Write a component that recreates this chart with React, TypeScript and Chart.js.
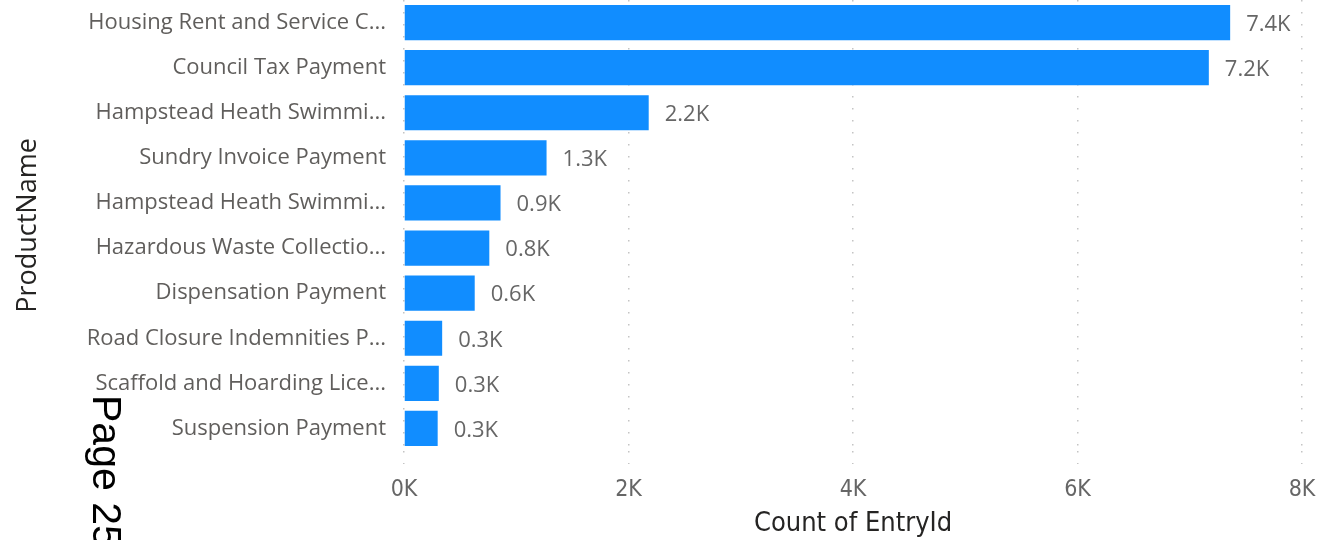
import React, { useEffect, useRef } from "react";
import { Chart, registerables } from "chart.js";

Chart.register(...registerables);

const categories = [
  "Housing Rent and Service C...",
  "Council Tax Payment",
  "Hampstead Heath Swimmi...",
  "Sundry Invoice Payment",
  "Hampstead Heath Swimmi...",
  "Hazardous Waste Collectio...",
  "Dispensation Payment",
  "Road Closure Indemnities P...",
  "Scaffold and Hoarding Lice...",
  "Suspension Payment",
];
const counts = [7360, 7170, 2180, 1270, 860, 760, 630, 340, 310, 300];
const xTicks = [0, 2000, 4000, 6000, 8000];
const xTitle = "Count of EntryId";
const yTitle = "ProductName";
const overlayText = "Page 25";

const BLUE = "#118DFF";
const GRID = "#c4c4c4";

const dataLabelPlugin = {
  id: "dataLabels",
  afterDatasetsDraw(chart: any) {
    const ctx = chart.ctx;
    const meta = chart.getDatasetMeta(0);
    ctx.save();
    ctx.font = '22px "Open Sans", sans-serif';
    ctx.fillStyle = "#666666";
    ctx.textAlign = "left";
    ctx.textBaseline = "middle";
    meta.data.forEach((bar: any, i: number) => {
      const v = counts[i];
      const label = (v / 1000).toFixed(1) + "K";
      ctx.fillText(label, bar.x + 16, bar.y + 2);
    });
    ctx.restore();
  },
};

export default function App() {
  const ref = useRef<HTMLCanvasElement>(null);
  useEffect(() => {
    if (!ref.current) return;
    const chart = new Chart(ref.current, {
      type: "bar",
      data: {
        labels: categories,
        datasets: [
          {
            data: counts,
            backgroundColor: BLUE,
            barPercentage: 0.78,
            categoryPercentage: 1,
          },
        ],
      },
      options: {
        indexAxis: "y",
        animation: false,
        responsive: false,
        maintainAspectRatio: false,
        layout: { padding: { top: 0, right: 15, bottom: 0, left: 0 } },
        plugins: { legend: { display: false }, tooltip: { enabled: false } },
        scales: {
          x: {
            min: 0,
            max: 8000,
            afterBuildTicks: (s: any) => {
              s.ticks = xTicks.map((v) => ({ value: v }));
            },
            afterFit: (s: any) => {
              s.height = 89;
              s.paddingLeft = 0;
              s.paddingRight = 0;
            },
            border: { display: false, dash: [1.5, 10.5] },
            grid: {
              drawTicks: true,
              tickLength: 13,
              color: GRID,
              tickColor: GRID,
              lineWidth: 1.5,
              tickBorderDash: [1.5, 10.5],
            },
            ticks: {
              padding: 12,
              color: "#666666",
              font: { family: '"Liberation Sans Narrow", "DejaVu Sans Condensed", sans-serif', size: 23 },
              callback: (v: any) => Number(v) / 1000 + "K",
            },
            title: {
              display: true,
              text: xTitle,
              color: "#252423",
              font: { family: '"Liberation Sans Narrow", "DejaVu Sans Condensed", sans-serif', size: 27 },
              padding: { top: 0, bottom: 0 },
            },
          },
          y: {
            afterFit: (s: any) => {
              s.width = 404;
              s.paddingTop = 0;
              s.paddingBottom = 0;
            },
            border: { display: false },
            grid: { display: false, drawTicks: false },
            ticks: {
              padding: 18,
              color: "#605E5C",
              font: { family: '"Open Sans", sans-serif', size: 22 },
              autoSkip: false,
            },
            title: {
              display: true,
              text: yTitle,
              color: "#252423",
              font: { family: '"Open Sans", sans-serif', size: 27 },
              padding: { top: 12, bottom: 0 },
            },
          },
        },
      },
      plugins: [dataLabelPlugin],
    } as any);
    return () => chart.destroy();
  }, []);

  return (
    <div style={{ position: "fixed", left: 0, top: 0, width: 1317, height: 540, background: "#fff", overflow: "hidden" }}>
      <canvas ref={ref} width={1317} height={540} style={{ display: "block" }} />
      <div
        style={{
          position: "absolute",
          left: 86,
          top: 395,
          writingMode: "vertical-rl",
          fontFamily: '"Liberation Sans", Arial, sans-serif',
          fontSize: 41,
          lineHeight: 1,
          color: "#000",
          whiteSpace: "nowrap",
        }}
      >
        {overlayText}
      </div>
    </div>
  );
}
